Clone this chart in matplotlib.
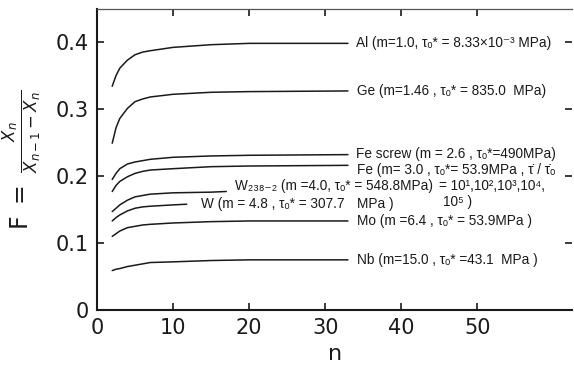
import matplotlib
matplotlib.use("Agg")
import matplotlib.pyplot as plt

# ---- data ----
n_full = [2, 2.5, 3, 4, 5, 6, 7, 10, 15, 20, 33]
F_Al      = [0.334, 0.350, 0.361, 0.373, 0.381, 0.385, 0.387, 0.392, 0.396, 0.398, 0.398]
F_Ge      = [0.249, 0.272, 0.286, 0.301, 0.311, 0.315, 0.318, 0.322, 0.325, 0.326, 0.327]
F_Fescrew = [0.195, 0.204, 0.211, 0.218, 0.221, 0.223, 0.225, 0.228, 0.230, 0.231, 0.232]
F_Fe      = [0.177, 0.186, 0.192, 0.199, 0.204, 0.207, 0.209, 0.211, 0.214, 0.215, 0.216]
F_Mo      = [0.110, 0.114, 0.118, 0.123, 0.125, 0.127, 0.128, 0.130, 0.132, 0.133, 0.133]
F_Nb      = [0.059, 0.061, 0.062, 0.065, 0.067, 0.069, 0.071, 0.072, 0.074, 0.075, 0.075]

n_W238 = [2, 2.5, 3, 4, 5, 6, 7, 10, 15, 17]
F_W238 = [0.147, 0.152, 0.157, 0.164, 0.169, 0.171, 0.173, 0.175, 0.176, 0.177]

n_W = [2, 2.5, 3, 4, 5, 6, 7, 10, 11.8]
F_W = [0.133, 0.138, 0.142, 0.148, 0.152, 0.154, 0.155, 0.157, 0.158]

x_ticks = [0, 10, 20, 30, 40, 50]
y_ticks = [0, 0.1, 0.2, 0.3, 0.4]
y_ticklabels = ["0", "0.1", "0.2", "0.3", "0.4"]

plt.rcParams['mathtext.fontset'] = 'dejavusans'
plt.rcParams['font.family'] = ['DejaVu Sans']
fig = plt.figure(figsize=(5.74, 3.67), dpi=100)
ax = fig.add_axes([0.169, 0.155, 0.828, 0.82])

lc = '#1a1a1a'
lw = 1.1
for n, F in [(n_full, F_Al), (n_full, F_Ge), (n_full, F_Fescrew), (n_full, F_Fe),
             (n_W238, F_W238), (n_W, F_W), (n_full, F_Mo), (n_full, F_Nb)]:
    ax.plot(n, F, color=lc, lw=lw, solid_capstyle='round')

ax.set_xlim(0, 62.5)
ax.set_ylim(0, 0.449)
ax.set_xticks(x_ticks)
ax.set_yticks(y_ticks)
ax.set_yticklabels(y_ticklabels)
ax.tick_params(direction='in', length=5, width=1.2, labelsize=15, colors='#1a1a1a',
               top=True, right=True, pad=6)
for s in ['left', 'bottom']:
    ax.spines[s].set_linewidth(1.5)
    ax.spines[s].set_color('#1a1a1a')
ax.spines['top'].set_linewidth(0.9)
ax.spines['top'].set_color('#555555')
ax.spines['right'].set_visible(False)

ax.set_xlabel('n', fontsize=16, color='#1a1a1a', labelpad=4)
ax.set_ylabel(r'$\mathsf{F}\ =\ \frac{X_n}{X_{n-1}-X_n}$', fontsize=17, color='#1a1a1a', labelpad=8)

fs = 9.8
tc = '#1a1a1a'
tau = 'τₒ*'
kw = dict(fontsize=fs, va='center', color=tc, family=['Liberation Sans', 'DejaVu Sans'])
ax.text(34.0, 0.398, 'Al (m=1.0, ' + tau + ' = 8.33×10⁻³ MPa)', **kw)
ax.text(34.2, 0.327, 'Ge (m=1.46 , ' + tau + ' = 835.0  MPa)', **kw)
ax.text(34.1, 0.233, 'Fe screw (m = 2.6 , ' + tau + '=490MPa)', **kw)
ax.text(34.2, 0.209, 'Fe (m= 3.0 , ' + tau + '= 53.9MPa , τ̇ / τ̇ₒ', **kw)
ax.text(45.0, 0.185, '= 10¹,10²,10³,10⁴,', **kw)
ax.text(45.5, 0.162, '10⁵ )', **kw)
ax.text(18.2, 0.185, 'W₂₃₈₋₂ (m =4.0, ' + tau + ' = 548.8MPa)', **kw)
ax.text(13.7, 0.158, 'W (m = 4.8 , ' + tau + ' = 307.7', **kw)
ax.text(34.2, 0.158, 'MPa )', **kw)
ax.text(34.2, 0.133, 'Mo (m =6.4 , ' + tau + ' = 53.9MPa )', **kw)
ax.text(34.2, 0.075, 'Nb (m=15.0 , ' + tau + ' =43.1  MPa )', **kw)

fig.savefig('out.png', dpi=100)
